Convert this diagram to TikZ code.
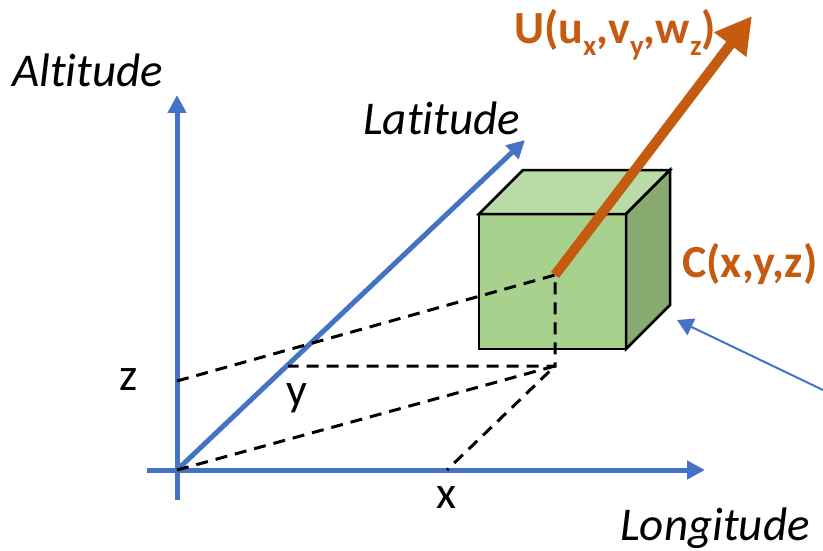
\documentclass[tikz,border=0pt]{standalone}
\usepackage{fontspec}
\setmainfont[Ligatures=NoCommon]{Carlito}
\usetikzlibrary{arrows.meta}
\definecolor{axblue}{HTML}{4472C4}
\definecolor{vorange}{HTML}{C55A11}
\definecolor{gfront}{HTML}{A9D18E}
\definecolor{gtop}{HTML}{B9DBA5}
\definecolor{gside}{HTML}{88AA70}
\newcommand{\lowsub}[1]{\raisebox{-0.26em}{\fontsize{29}{30}\selectfont #1}}
\tikzset{
  axis/.style={axblue,line width=5pt,-{Triangle[length=18pt,width=18pt]}},
  proj/.style={black,line width=3pt,dash pattern=on 12pt off 8pt},
  face/.style={draw=black,line width=2.5pt,line join=miter},
  lbl/.style={inner sep=0pt,anchor=base west,font=\fontsize{46}{54}\selectfont},
  axlbl/.style={lbl,font=\fontsize{47}{56}\selectfont\itshape},
  olbl/.style={lbl,text=vorange,font=\fontsize{46}{54}\selectfont\bfseries}
}
\begin{document}
\begin{tikzpicture}[x=1pt,y=-1pt]
\useasboundingbox (0,0) rectangle (823,551);
% coordinates
\coordinate (O) at (177,470);
\coordinate (Vb) at (177,500);
\coordinate (Vt) at (177,95);
\coordinate (Hl) at (147,470);
\coordinate (Ht) at (705,470);
\coordinate (Lt) at (525,140);
\coordinate (C) at (555,275);
\coordinate (P) at (555,366);
\coordinate (Z) at (177,381);
\coordinate (Y) at (288,366);
\coordinate (X) at (447,470);
\coordinate (Ut) at (752,16);
\coordinate (Bs) at (823,390);
\coordinate (Bt) at (677,320);
% axes
\draw[axis] (Vb) -- (Vt);
\draw[axis] (Hl) -- (Ht);
\draw[axis] (O) -- (Lt);
% cube
\coordinate (f1) at (479,214);
\coordinate (f2) at (626,214);
\coordinate (f3) at (626,349);
\coordinate (f4) at (479,349);
\coordinate (b1) at (523,170);
\coordinate (b2) at (670,170);
\coordinate (b3) at (670,305);
\draw[face,fill=gfront] (f1) -- (f2) -- (f3) -- (f4) -- cycle;
\draw[face,fill=gtop] (f1) -- (b1) -- (b2) -- (f2) -- cycle;
\draw[face,fill=gside] (f2) -- (b2) -- (b3) -- (f3) -- cycle;
% projections
\draw[proj] (Z) -- (C) -- (P) -- (Y);
\draw[proj] (O) -- (P) -- (X);
% pointer
\draw[axblue,line width=2pt,-{Triangle[length=16pt,width=18pt]}] (Bs) -- (Bt);
% labels
\node[axlbl] (altl) at (12,87) {Altitude};
\node[axlbl] (latl) at (363,135) {Latitude};
\node[axlbl] (lonl) at (620,540) {Longitude};
\node[lbl] (zl) at (119,390) {z};
\node[lbl] (yl) at (286,405) {y};
\node[lbl] (xl) at (436,508) {x};
\node[olbl] (cl) at (682,277) {C(x,y,z)};
\node[olbl] (ul) at (514,44) {U(u\lowsub{x},v\lowsub{y},w\lowsub{z})};
% vector
\draw[vorange,line width=10pt,-{Triangle[length=36pt,width=38pt]}] (C) -- (Ut);
\end{tikzpicture}
\end{document}
